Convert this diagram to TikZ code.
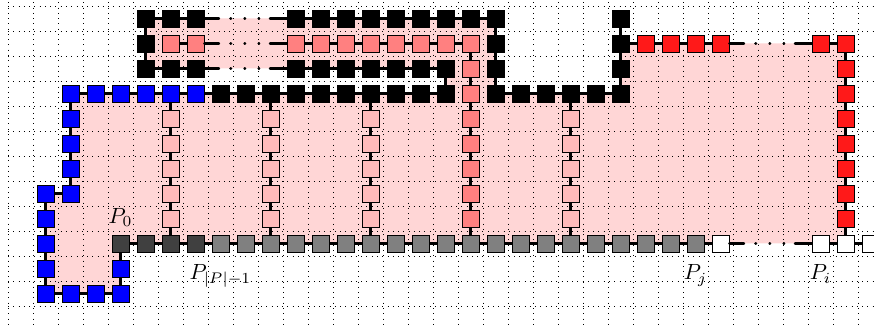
\documentclass[tikz,border=0pt]{standalone}
\usepackage{amsmath}
\usepackage{tikz}

\tikzset{
  site/.style={draw,minimum size=7.7pt,inner sep=0pt},
  blk/.style={site,fill=black},
  blu/.style={site,fill=blue},
  sal/.style={site,fill=red!50},
  pnk/.style={site,fill=red!27},
  rd/.style={site,fill=red!90},
  dgr/.style={site,fill=darkgray},
  gry/.style={site,fill=gray},
  wht/.style={site,fill=white},
  link/.style={very thick},
  gapped/.style={line cap=round,dash pattern=on 6.6pt off 5.3pt on 0.2pt off 6.2pt on 0.2pt off 6.2pt on 0.2pt off 5pt on 20pt},
}

\begin{document}
\begin{tikzpicture}[x=0.4cm,y=0.4cm]
  \useasboundingbox (-0.82,-12.42) rectangle (34.14,0.74);
  \fill[red!16] (2,-3) -- (17,-3) -- (17,-2) -- (5,-2) -- (5,0) -- (19,0) -- (19,-3) -- (24,-3)
    -- (24,-1) -- (33,-1) -- (33,-9) -- (4,-9) -- (4,-11) -- (1,-11) -- (1,-7) -- (2,-7) -- cycle;
  \foreach \x in {-0.5,0.5,...,33.5} \draw[dotted] (\x,0.65) -- (\x,-12.25);
  \foreach \y in {0.5,-0.5,...,-11.5} \draw[dotted] (-0.5,\y) -- (34.2,\y);

  \foreach \i in {5,6,7,11,12,...,19,24} \node[blk] (v\i-0) at (\i,0) {};
  \foreach \i in {5,19,24} \node[blk] (v\i-1) at (\i,-1) {};
  \foreach \i in {6,7,11,12,...,18} \node[sal] (v\i-1) at (\i,-1) {};
  \foreach \i in {25,...,28,32,33} \node[rd] (v\i-1) at (\i,-1) {};
  \foreach \i in {5,6,7,11,12,...,17,19,24} \node[blk] (v\i-2) at (\i,-2) {};
  \foreach \i in {2,...,7} \node[blu] (v\i-3) at (\i,-3) {};
  \foreach \i in {8,...,17,19,20,...,24} \node[blk] (v\i-3) at (\i,-3) {};
  \foreach \j in {2,...,8} \node[sal] (v18-\j) at (18,-\j) {};
  \foreach \j in {4,...,8} {\foreach \i in {6,10,14,22} \node[pnk] (v\i-\j) at (\i,-\j) {};}
  \foreach \j in {2,...,8} \node[rd] (v33-\j) at (33,-\j) {};
  \foreach \j in {4,...,7} \node[blu] (v2-\j) at (2,-\j) {};
  \foreach \j in {7,...,11} \node[blu] (v1-\j) at (1,-\j) {};
  \foreach \i in {2,3,4} \node[blu] (v\i-11) at (\i,-11) {};
  \node[blu] (v4-10) at (4,-10) {};
  \foreach \i in {4,...,7} \node[dgr] (v\i-9) at (\i,-9) {};
  \foreach \i in {8,...,27} \node[gry] (v\i-9) at (\i,-9) {};
  \foreach \i in {28,32,33,34} \node[wht] (v\i-9) at (\i,-9) {};

  \foreach \j/\a/\b in {0/5/7,0/11/19,1/6/7,1/11/18,1/24/28,1/32/33,2/5/7,2/11/17,3/2/17,3/19/24,7/1/2,9/4/28,9/32/34,11/1/4} {
    \pgfmathtruncatemacro\lst{\b-1}
    \foreach \i in {\a,...,\lst} {
      \pgfmathtruncatemacro\nxt{\i+1}
      \draw[link] (v\i-\j) -- (v\nxt-\j);
    }
  }
  \foreach \i/\a/\b in {1/7/11,2/3/7,4/9/11,5/0/2,6/3/9,10/3/9,14/3/9,17/2/3,18/1/9,19/0/3,22/3/9,24/0/3,33/1/9} {
    \pgfmathtruncatemacro\lst{\b-1}
    \foreach \j in {\a,...,\lst} {
      \pgfmathtruncatemacro\nxt{\j+1}
      \draw[link] (v\i-\j) -- (v\i-\nxt);
    }
  }
  \foreach \j/\a/\b in {0/7/11,1/7/11,2/7/11,1/28/32,9/28/32} \draw[link,gapped] (v\a-\j) -- (v\b-\j);

  \node[above] (p0) at (v4-9.north) {$P_0$};
  \node[anchor=base] (plast) at (8,-10.45) {$P_{|P|-1}$};
  \node[anchor=base] (pj) at (27,-10.45) {$P_j$};
  \node[anchor=base] (pi) at (32,-10.45) {$P_i$};
\end{tikzpicture}
\end{document}
